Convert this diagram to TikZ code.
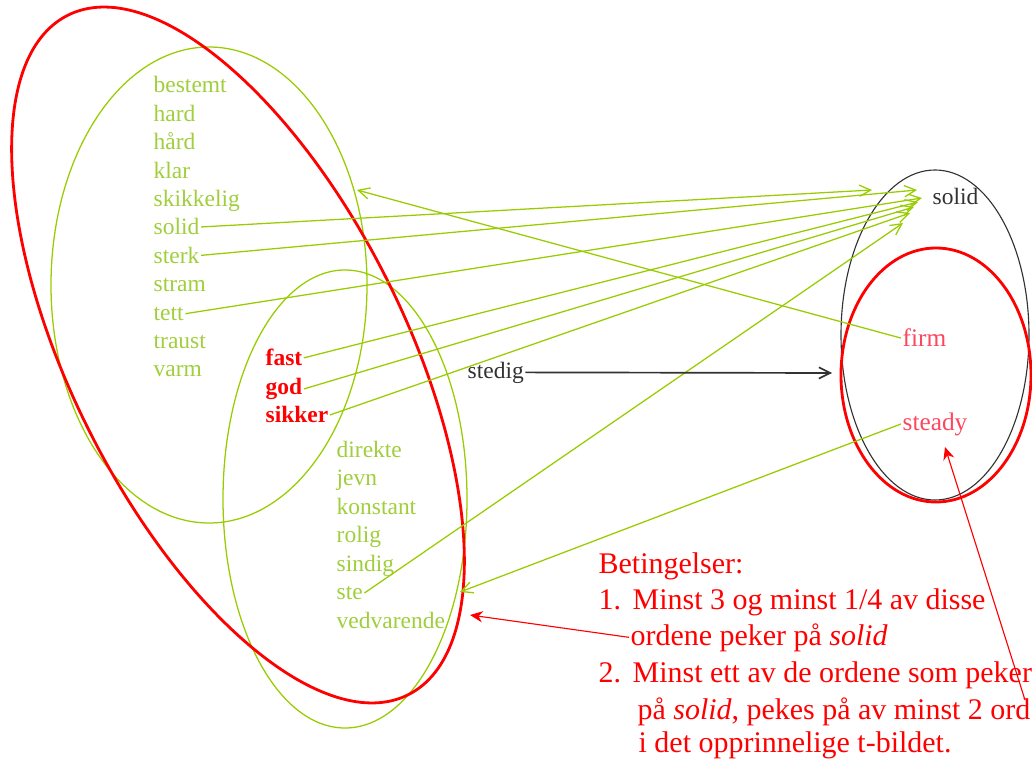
\documentclass[tikz,border=0pt]{standalone}
\usepackage{fontspec}
\setmainfont{Liberation Serif}
\usetikzlibrary{arrows.meta}
\definecolor{lgreen}{RGB}{153,204,0}
\definecolor{tgreen}{RGB}{160,206,60}
\definecolor{dgray}{RGB}{50,50,50}
\definecolor{pinkred}{RGB}{255,70,95}
\begin{document}
\begin{tikzpicture}[x=0.025cm,y=-0.025cm,
  gw/.style={font=\fontsize{16.7}{20}\selectfont, text=tgreen, anchor=base west, inner xsep=1pt, inner ysep=1pt},
  rw/.style={font=\fontsize{16.7}{20}\selectfont\bfseries, text=red, anchor=base west, inner xsep=1pt, inner ysep=1pt},
  bw/.style={font=\fontsize{16.7}{20}\selectfont, text=dgray, anchor=base west, inner xsep=1pt, inner ysep=1pt},
  pw/.style={font=\fontsize{18}{20}\selectfont, text=pinkred, anchor=base west, inner xsep=1pt, inner ysep=1pt},
  rt/.style={font=\fontsize{21.3}{25}\selectfont, text=red, anchor=base west, inner xsep=1pt, inner ysep=1pt},
  gell/.style={draw=lgreen, line width=0.9pt},
  rell/.style={draw=red, line width=2pt},
  bell/.style={draw=dgray, line width=0.8pt},
  garrow/.style={draw=lgreen, line width=0.9pt, -{Straight Barb[length=8pt,width=8pt]}},
  barrow/.style={draw=dgray, line width=1.2pt, -{Straight Barb[length=8pt,width=8pt]}},
  rarrow/.style={draw=red, line width=0.8pt, -{Stealth[length=9pt,width=8pt]}}
]
\useasboundingbox (0,0) rectangle (1032,760);

% ellipses
\draw[gell] (209,285) ellipse [x radius=158, y radius=238];
\draw[gell] (345,499) ellipse [x radius=122, y radius=229];
\draw[rell, rotate around={-63.4:(238,355)}] (238,355) ellipse [x radius=380, y radius=167];
\draw[bell] (935,335) ellipse [x radius=94, y radius=165];
\draw[rell] (936,375) ellipse [x radius=95, y radius=127];

% left column words
\node[gw] (bestemt) at (152,93) {bestemt};
\node[gw] (hard) at (152,121.4) {hard};
\node[gw] (haard) at (152,149.8) {hård};
\node[gw] (klar) at (152,178.2) {klar};
\node[gw] (skikkelig) at (152,206.6) {skikkelig};
\node[gw] (solidL) at (152,235) {solid};
\node[gw] (sterk) at (152,263.4) {sterk};
\node[gw] (stram) at (152,291.8) {stram};
\node[gw] (tett) at (152,320.2) {tett};
\node[gw] (traust) at (152,348.6) {traust};
\node[gw] (varm) at (152,377) {varm};

% red words
\node[rw] (fast) at (264,366) {fast};
\node[rw] (god) at (264,394.5) {god};
\node[rw] (sikker) at (264,423) {sikker};

% lower words
\node[gw] (direkte) at (335,457) {direkte};
\node[gw] (jevn) at (335,485.5) {jevn};
\node[gw] (konstant) at (335,514) {konstant};
\node[gw] (rolig) at (335,542.5) {rolig};
\node[gw] (sindig) at (335,571) {sindig};
\node[gw] (ste) at (335,599.5) {ste};
\node[gw] (vedvarende) at (335,628) {vedvarende};

% middle and right words
\node[bw] (stedig) at (466,378) {stedig};
\node[bw] (solidR) at (931,205) {solid};
\node[pw] (firm) at (901,347) {firm};
\node[pw] (steady) at (901,430) {steady};

% conditions text
\node[rt] (bet) at (597,573) {Betingelser:};
\node[rt] (n1) at (597,609) {1.};
\node[rt] (l1) at (631,609) {Minst 3 og minst 1/4 av disse};
\node[rt] (ordene) at (629,645) {ordene peker på \textit{solid}};
\node[rt] (n2) at (597,682) {2.};
\node[rt] (l3) at (631,682) {Minst ett av de ordene som peker};
\node[rt] (l4) at (636,719) {på \textit{solid}, pekes på av minst 2 ord};
\node[rt] (l5) at (637,752) {i det opprinnelige t-bildet.};

% target coordinates
\coordinate (tS1) at (872,190);
\coordinate (tS2) at (917,190);
\coordinate (tS3) at (922,198);
\coordinate (tS4) at (918,202);
\coordinate (tS5) at (914,207);
\coordinate (tS6) at (910,213);
\coordinate (tS7) at (903,223);
\coordinate (tFirm) at (357,190);
\coordinate (tSteady) at (460,592);
\coordinate (tStedig) at (832,373);
\coordinate (tV) at (470,615);
\coordinate (tSt) at (945,447);
\coordinate (sPeker) at (1025,700);

% green arrows
\draw[garrow] (solidL.east) -- (tS1);
\draw[garrow] (sterk.east) -- (tS2);
\draw[garrow] (tett.east) -- (tS3);
\draw[garrow] (fast.east) -- (tS4);
\draw[garrow] (god.east) -- (tS5);
\draw[garrow] (sikker.east) -- (tS6);
\draw[garrow] (ste.east) -- (tS7);
\draw[garrow] (firm.west) -- (tFirm);
\draw[garrow] (steady.west) -- (tSteady);

% black arrow
\draw[barrow] (stedig.east) -- (tStedig);

% red arrows
\draw[rarrow] (ordene.west) -- (tV);
\draw[rarrow] (sPeker) -- (tSt);
\end{tikzpicture}
\end{document}
